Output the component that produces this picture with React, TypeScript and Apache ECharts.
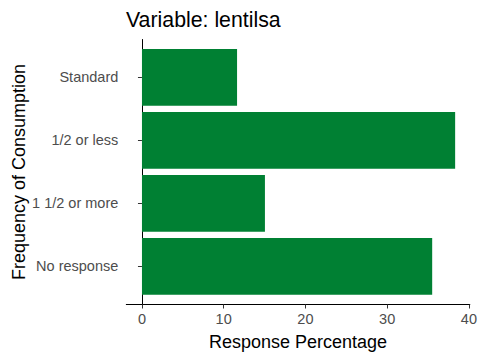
import React, { useEffect, useRef } from "react";
import * as echarts from "echarts";

const categories = ["Standard", "1/2 or less", "1 1/2 or more", "No response"];
const responsePct = [11.6, 38.2, 15.0, 35.4];
const xTicks = [0, 10, 20, 30, 40];
const titleText = "Variable: lentilsa";
const xTitle = "Response Percentage";
const yTitle = "Frequency of Consumption";

const FONT = "'Liberation Sans', Arial, sans-serif";

export default function App() {
  const ref = useRef<HTMLDivElement>(null);
  useEffect(() => {
    document.body.style.margin = "0";
    const chart = echarts.init(ref.current!, undefined, { renderer: "svg" });
    const xMin = -1.91;
    const xMax = 40.11;
    const left = 126.3;
    const right = 480 - 470.8;
    chart.setOption({
      animation: false,
      backgroundColor: "#ffffff",
      textStyle: { fontFamily: FONT },
      title: {
        text: titleText,
        left: 126,
        top: 9,
        padding: 0,
        textStyle: { fontFamily: FONT, fontSize: 21.3, fontWeight: "normal", color: "#000000" },
      },
      grid: [
        { left, right, top: 45.8, height: 252 },
        { left, right, top: 39.5, height: 265 },
      ],
      xAxis: [
        { gridIndex: 0, type: "value", min: xMin, max: xMax, show: false },
        {
          gridIndex: 1,
          type: "value",
          min: xMin,
          max: xMax,
          axisLine: { show: true, lineStyle: { color: "#000000", width: 1 } },
          axisTick: { show: true, length: 4, customValues: xTicks, lineStyle: { color: "#333333" } },
          axisLabel: { customValues: xTicks, color: "#4d4d4d", fontSize: 14.5, margin: 7, fontFamily: FONT },
          splitLine: { show: false },
          name: xTitle,
          nameLocation: "middle",
          nameGap: 28,
          nameTextStyle: { fontSize: 18, color: "#000000", fontFamily: FONT },
        },
      ],
      yAxis: [
        {
          gridIndex: 0,
          type: "category",
          data: categories,
          inverse: true,
          axisLine: { show: false },
          axisTick: { show: true, alignWithLabel: true, length: 4, lineStyle: { color: "#333333" } },
          axisLabel: { color: "#4d4d4d", fontSize: 14.5, margin: 8, fontFamily: FONT },
          splitLine: { show: false },
        },
        {
          gridIndex: 1,
          type: "value",
          min: 0,
          max: 1,
          axisLine: { show: true, lineStyle: { color: "#000000", width: 1 } },
          axisTick: { show: false },
          axisLabel: { show: false },
          splitLine: { show: false },
          name: yTitle,
          nameLocation: "middle",
          nameGap: 98,
          nameTextStyle: { fontSize: 18, color: "#000000", fontFamily: FONT },
        },
      ],
      series: [
        {
          type: "bar",
          xAxisIndex: 0,
          yAxisIndex: 0,
          data: responsePct,
          barWidth: "90%",
          itemStyle: { color: "#008033" },
        },
      ],
    });
    return () => chart.dispose();
  }, []);
  return <div ref={ref} style={{ width: 480, height: 360 }} />;
}
